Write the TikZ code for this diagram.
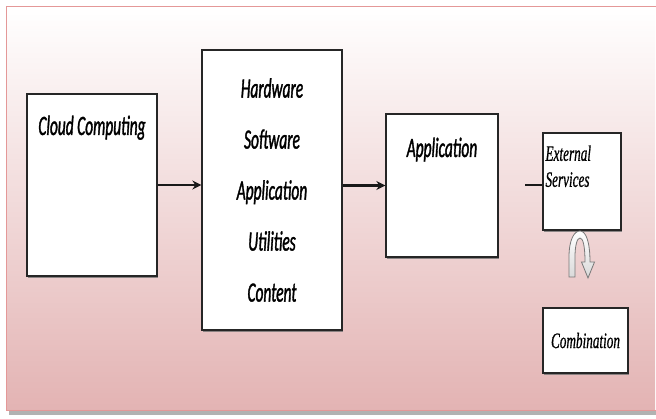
\documentclass[tikz,border=0pt]{standalone}
\usepackage{fontspec}
\usepackage{xcolor}
\newfontfamily\boxfont[FakeStretch=0.55,FakeBold=1.2]{Carlito}
\newfontfamily\smallfont[FakeStretch=0.6,FakeBold=0.6]{Liberation Serif}
\usetikzlibrary{arrows.meta,shadows,positioning,calc}

\definecolor{panelpink}{RGB}{227,179,179}
\definecolor{panelline}{RGB}{228,152,152}
\definecolor{turngray}{RGB}{120,120,120}

\tikzset{
  box/.style={draw=black!85,line width=1.3pt,fill=white,inner sep=0pt,
    drop shadow={shadow xshift=0.8pt,shadow yshift=-1.6pt,fill=black!55,opacity=0.8}},
  lbl/.style={inner sep=0pt,font=\boxfont\itshape\fontsize{28}{51}\selectfont},
  slbl/.style={inner sep=0pt,font=\smallfont\itshape\fontsize{22}{26}\selectfont},
  flow/.style={->,line width=2.2pt,black!90}
}

\begin{document}
\begin{tikzpicture}[x=1pt,y=-1pt,>={Stealth[length=9pt,width=9pt]}]
\useasboundingbox (0,0) rectangle (656,419);
% panel
\fill[black!30] (9,410) rectangle (656,415);
\shade[top color=white, bottom color=panelpink] (6,7) rectangle (655,411);
\draw[panelline,line width=1pt] (656,7)--(6,7)--(6,411)--(656,411);

% boxes
\node[box,minimum width=130pt,minimum height=182pt] (cloud) at (92,185) {};
\node[box,lbl,minimum width=140pt,minimum height=280pt,align=center] (stack) at (272,190)
  {Hardware\\Software\\Application\\Utilities\\Content};
\node[box,minimum width=112pt,minimum height=143pt] (app) at (442,185.5) {};
\node[box,minimum width=78pt,minimum height=97pt] (ext) at (582,181.5) {};
\node[box,slbl,minimum width=85pt,minimum height=65pt] (comb) at (585.5,340.5) {Combination};

% labels
\node[lbl,below=22pt of cloud.north] (cloudlbl) {Cloud Computing};
\node[lbl,below=24pt of app.north] (applbl) {Application};
\node[slbl,align=left,below right=13pt and 3pt of ext.north west] (extlbl) {External\\Services};

% connectors
\draw[flow] (cloud) -- (cloud -| stack.west);
\draw[flow] (stack.east |- app) -- (app.west);
\coordinate (extin) at (525,185);
\draw[line width=2.2pt,black!90] (extin) -- (extin -| ext.west);

% u-turn arrow
\shade[top color=white,bottom color=black!15,draw=turngray,line width=0.8pt]
  (569,277) -- (569,257) .. controls (569,240) and (574,231) .. (580,231)
  .. controls (586,231) and (590,242) .. (590,262) -- (594.5,262) -- (588,278)
  -- (581.5,262) -- (585,262) .. controls (585,246) and (583,238) .. (580,238)
  .. controls (577,238) and (575,246) .. (575,257) -- (575,277) -- cycle;
\end{tikzpicture}
\end{document}
